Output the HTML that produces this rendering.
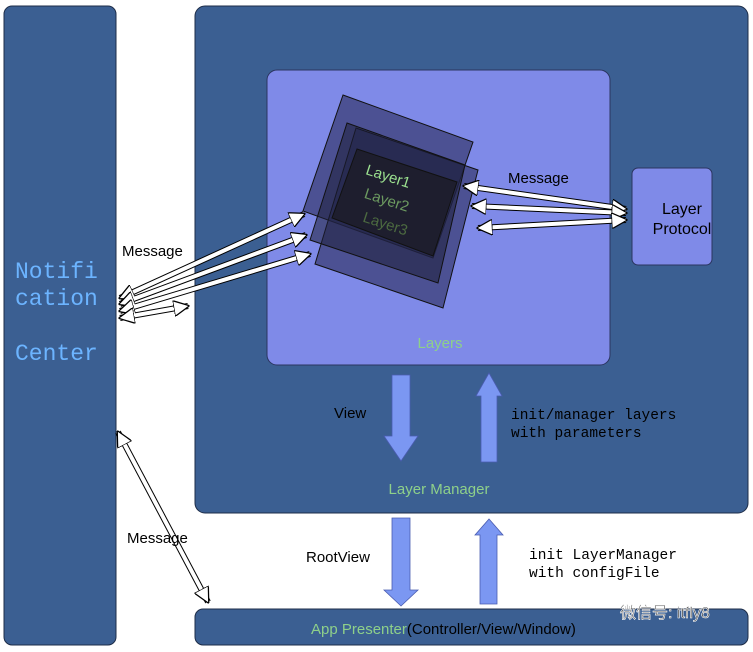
<!DOCTYPE html>
<html><head><style>
body{margin:0;width:753px;height:647px;background:#fff;overflow:hidden}
svg text{font-family:"Liberation Sans",sans-serif}
.m{font-family:"Liberation Mono",monospace}
</style></head><body>
<svg width="753" height="647" viewBox="0 0 753 647">
<defs>
<marker id="ah" viewBox="0 0 10 10" refX="9" refY="5" markerWidth="4" markerHeight="4" orient="auto-start-reverse" markerUnits="strokeWidth">
<path d="M0,0 L10,5 L0,10 z" fill="#fff" stroke="#000" stroke-width="0.8"/></marker>
</defs>
<rect x="4" y="6" width="112" height="639" rx="8" fill="#3b5f92" stroke="#1e2d48"/>
<text class="m" x="15" y="278" font-size="23" fill="#6cb4ff">Notifi</text>
<text class="m" x="15" y="305" font-size="23" fill="#6cb4ff">cation</text>
<text class="m" x="15" y="360" font-size="23" fill="#6cb4ff">Center</text>
<rect x="195" y="6" width="553" height="507" rx="10" fill="#3b5f92" stroke="#1e2d48"/>
<rect x="267" y="70" width="343" height="295" rx="10" fill="#7f8ae8" stroke="#2b3560"/>
<text x="440" y="348" font-size="15" fill="#8ed08a" text-anchor="middle">Layers</text>
<rect x="632" y="168" width="80" height="97" rx="6" fill="#7f8ae8" stroke="#2b3560"/>
<text x="682" y="214" font-size="16" text-anchor="middle">Layer</text>
<text x="682" y="234" font-size="16" text-anchor="middle">Protocol</text>
<g stroke="#111" stroke-width="1">
<polygon points="343,95 473,142 433,258 303,211" fill="#2a2c5a" fill-opacity="0.6"/>
<polygon points="356,128 478,170 443,308 315,264" fill="#2a2c5a" fill-opacity="0.6"/>
<polygon points="347,123 465,165 438,283 310,240" fill="#1e1f38" fill-opacity="0.55"/>
<polygon points="357,149 457,182 433,256 332,218" fill="#1c1c28" fill-opacity="0.85"/>
</g>
<g transform="rotate(18 390 200)">
<text x="358" y="183" font-size="15" fill="#9be08f">Layer1</text>
<text x="364" y="206" font-size="15" fill="#6c9a60">Layer2</text>
<text x="370" y="229" font-size="15" fill="#4c6a40">Layer3</text>
</g>
<g fill="none" stroke-linecap="butt">
<g stroke="#000" stroke-width="6">
<line x1="120" y1="298" x2="304" y2="214"/><line x1="120" y1="304" x2="306" y2="235"/>
<line x1="120" y1="311" x2="310" y2="254"/><line x1="120" y1="318" x2="188" y2="306"/>
<line x1="464" y1="186" x2="626" y2="209"/><line x1="472" y1="206" x2="626" y2="213"/>
<line x1="478" y1="228" x2="626" y2="220"/>
<line x1="118" y1="432" x2="208" y2="602"/>
</g>
<g stroke="#fff" stroke-width="4" marker-start="url(#ah)" marker-end="url(#ah)">
<line x1="120" y1="298" x2="304" y2="214"/><line x1="120" y1="304" x2="306" y2="235"/>
<line x1="120" y1="311" x2="310" y2="254"/><line x1="120" y1="318" x2="188" y2="306"/>
<line x1="464" y1="186" x2="626" y2="209"/><line x1="472" y1="206" x2="626" y2="213"/>
<line x1="478" y1="228" x2="626" y2="220"/>
<line x1="118" y1="432" x2="208" y2="602"/>
</g></g>
<text x="122" y="256" font-size="15">Message</text>
<text x="508" y="183" font-size="15">Message</text>
<text x="127" y="543" font-size="15">Message</text>
<g fill="#7b97f2" stroke="#4a5cb0" stroke-width="0.8">
<polygon points="392,375 410,375 410,436 418,436 401,461 384,436 392,436"/>
<polygon points="481,462 497,462 497,396 502,396 489,373 476,396 481,396"/>
<polygon points="392,518 410,518 410,590 418,590 401,606 384,590 392,590"/>
<polygon points="480,604 497,604 497,535 503,535 489,519 475,535 480,535"/>
</g>
<text x="334" y="418" font-size="15">View</text>
<text class="m" x="511" y="419" font-size="14.5">init/manager layers</text>
<text class="m" x="511" y="437" font-size="14.5">with parameters</text>
<text x="439" y="494" font-size="15" fill="#8ed08a" text-anchor="middle">Layer Manager</text>
<text x="306" y="562" font-size="15">RootView</text>
<text class="m" x="529" y="559" font-size="14.5">init LayerManager</text>
<text class="m" x="529" y="577" font-size="14.5">with configFile</text>
<rect x="195" y="609" width="553" height="36" rx="8" fill="#3b5f92" stroke="#1e2d48"/>
<text x="311" y="634" font-size="15" fill="#8ed08a">App Presenter<tspan fill="#000">(Controller/View/Window)</tspan></text>
<text x="620" y="618" font-size="16" fill="#444" stroke="#fff" stroke-width="0.6" font-family="Liberation Sans,'Noto Sans CJK SC',sans-serif">微信号: itfly8</text>
</svg>
</body></html>
